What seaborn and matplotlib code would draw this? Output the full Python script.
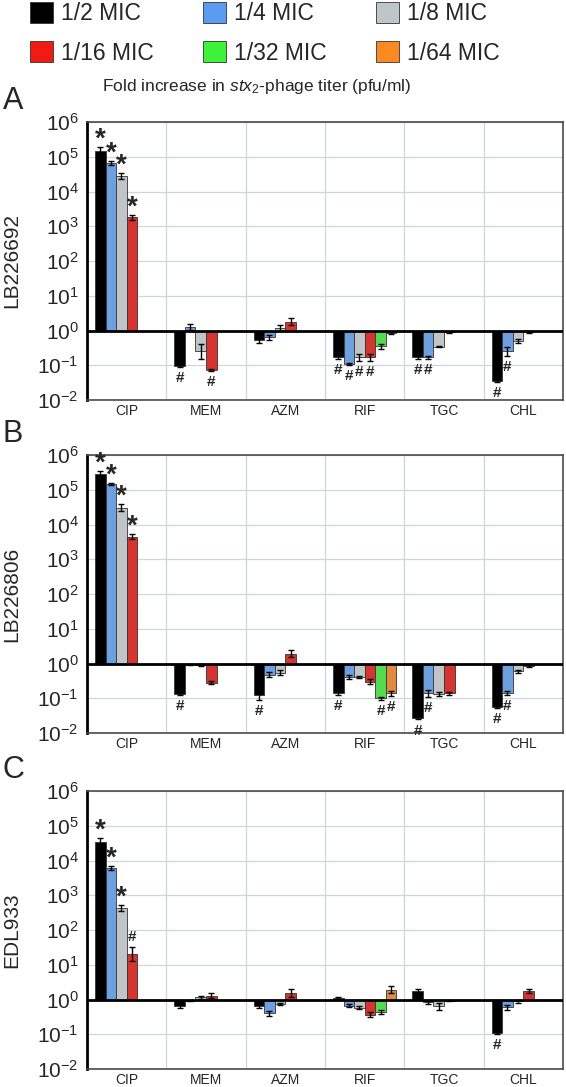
import numpy as np
import pandas as pd
import matplotlib
matplotlib.use("Agg")
import matplotlib.pyplot as plt
from matplotlib.patches import Patch
import seaborn as sns

# ---- data (fold increase, None = not tested) ----
drugs = ["CIP", "MEM", "AZM", "RIF", "TGC", "CHL"]
concs = ["1/2 MIC", "1/4 MIC", "1/8 MIC", "1/16 MIC", "1/32 MIC", "1/64 MIC"]
colors = ["#000000", "#5b9cf2", "#bec6ca", "#f21a14", "#3ef23a", "#fb8a22"]
strains = ["LB226692", "LB226806", "EDL933"]
panel_letters = ["A", "B", "C"]

fold_a = [
    [1.5e5, 6.5e4, 2.8e4, 1.8e3, None, None],
    [0.094, 1.25, 0.25, 0.075, None, None],
    [0.52, 0.63, 1.18, 1.8, None, None],
    [0.17, 0.11, 0.17, 0.17, 0.35, 0.85],
    [0.17, 0.17, 0.34, 0.88, None, None],
    [0.035, 0.25, 0.5, 0.88, None, None],
]
fold_b = [
    [2.8e5, 1.45e5, 3.0e4, 4.5e3, None, None],
    [0.13, 0.95, 0.9, 0.28, None, None],
    [0.12, 0.48, 0.54, 1.9, None, None],
    [0.14, 0.42, 0.42, 0.3, 0.1, 0.14],
    [0.027, 0.14, 0.135, 0.14, None, None],
    [0.055, 0.14, 0.6, 0.85, None, None],
]
fold_c = [
    [3.5e4, 6.0e3, 4.3e2, 21, None, None],
    [0.67, 0.93, 1.17, 1.3, None, None],
    [0.65, 0.4, 0.75, 1.55, None, None],
    [1.1, 0.67, 0.58, 0.37, 0.43, 1.9],
    [1.8, 0.83, 0.63, 0.93, None, None],
    [0.11, 0.6, 0.88, 1.8, None, None],
]

# error half-widths in log10 units
err_a = [
    [0.10, 0.06, 0.08, 0.08, 0, 0],
    [0.02, 0.08, 0.22, 0.03, 0, 0],
    [0.08, 0.07, 0.08, 0.10, 0, 0],
    [0.04, 0.03, 0.10, 0.10, 0.08, 0.02],
    [0.04, 0.04, 0.02, 0.02, 0, 0],
    [0.03, 0.12, 0.06, 0.03, 0, 0],
]
err_b = [
    [0.08, 0.02, 0.10, 0.07, 0, 0],
    [0.03, 0.02, 0.03, 0.05, 0, 0],
    [0.12, 0.07, 0.07, 0.10, 0, 0],
    [0.05, 0.06, 0.03, 0.08, 0.05, 0.07],
    [0.04, 0.10, 0.06, 0.04, 0, 0],
    [0.03, 0.06, 0.04, 0.03, 0, 0],
]
err_c = [
    [0.10, 0.06, 0.08, 0.20, 0, 0],
    [0.07, 0.02, 0.04, 0.06, 0, 0],
    [0.07, 0.08, 0.03, 0.12, 0, 0],
    [0.03, 0.04, 0.04, 0.07, 0.06, 0.10],
    [0.06, 0.04, 0.09, 0.02, 0, 0],
    [0.03, 0.07, 0.05, 0.06, 0, 0],
]

# significance marks: (drug, concentration index, symbol)
marks_a = [("CIP", 0, "*"), ("CIP", 1, "*"), ("CIP", 2, "*"), ("CIP", 3, "*"),
           ("MEM", 0, "#"), ("MEM", 3, "#"),
           ("RIF", 0, "#"), ("RIF", 1, "#"), ("RIF", 2, "#"), ("RIF", 3, "#"),
           ("TGC", 0, "#"), ("TGC", 1, "#"), ("CHL", 0, "#"), ("CHL", 1, "#")]
marks_b = [("CIP", 0, "*"), ("CIP", 1, "*"), ("CIP", 2, "*"), ("CIP", 3, "*"),
           ("MEM", 0, "#"), ("AZM", 0, "#"),
           ("RIF", 0, "#"), ("RIF", 4, "#"), ("RIF", 5, "#"),
           ("TGC", 0, "#"), ("TGC", 1, "#"), ("CHL", 0, "#"), ("CHL", 1, "#")]
marks_c = [("CIP", 0, "*"), ("CIP", 1, "*"), ("CIP", 2, "*"), ("CIP", 3, "#"),
           ("CHL", 0, "#")]

folds = [fold_a, fold_b, fold_c]
errs = [err_a, err_b, err_c]
marks = [marks_a, marks_b, marks_c]

# ---- long table ----
rows = []
for s, strain in enumerate(strains):
    for i, drug in enumerate(drugs):
        for j, conc in enumerate(concs):
            v = folds[s][i][j]
            if v is None:
                continue
            rows.append(dict(strain=strain, drug=drug, conc=conc,
                             logfold=np.log10(v), err=errs[s][i][j]))
df = pd.DataFrame(rows)

sns.set_style("white")
plt.rcParams["font.family"] = ["Liberation Sans", "DejaVu Sans"]
plt.rcParams["mathtext.fontset"] = "custom"
plt.rcParams["mathtext.rm"] = "Liberation Sans"
plt.rcParams["mathtext.it"] = "Liberation Sans:italic"
plt.rcParams["mathtext.default"] = "regular"

W, H = 566, 1087
fig = plt.figure(figsize=(W / 100, H / 100), dpi=100)

ax_left, ax_right = 87, 563
ax_tops = [122, 455, 791]
ax_h = 278
bar_width = 0.8
n_hue = len(concs)

for s, strain in enumerate(strains):
    top = ax_tops[s]
    ax = fig.add_axes([ax_left / W, 1 - (top + ax_h) / H,
                       (ax_right - ax_left) / W, ax_h / H])
    sub = df[df.strain == strain]
    sns.barplot(data=sub, x="drug", y="logfold", hue="conc", order=drugs,
                hue_order=concs, palette=colors, width=bar_width, dodge=True,
                errorbar=None, edgecolor="#333333", linewidth=0.6,
                legend=False, ax=ax, zorder=3)

    # error bars and significance marks
    for _, r in sub.iterrows():
        i = drugs.index(r.drug)
        j = concs.index(r.conc)
        x = i - bar_width / 2 + (j + 0.5) * bar_width / n_hue
        ax.errorbar(x, r.logfold, yerr=r.err, fmt="none", ecolor="black",
                    elinewidth=1, capsize=2, capthick=1, zorder=4)
    for drug, j, sym in marks[s]:
        i = drugs.index(drug)
        x = i - bar_width / 2 + (j + 0.5) * bar_width / n_hue
        r = sub[(sub.drug == drug) & (sub.conc == concs[j])].iloc[0]
        if r.logfold > 0:
            y, dy, va = r.logfold + r.err, 2, "bottom"
        else:
            y, dy, va = r.logfold - r.err, -3, "top"
        if sym == "*":
            ax.annotate("*", (x, y), xytext=(0, dy - 6), textcoords="offset points",
                        ha="center", va=va, fontsize=20, fontweight="bold", zorder=5)
        else:
            ax.annotate("#", (x, y), xytext=(0, dy), textcoords="offset points",
                        ha="center", va=va, fontsize=11, fontweight="bold", zorder=5)

    ax.axhline(0, color="black", lw=2, zorder=5)
    ax.set_xlim(-0.5, len(drugs) - 0.5)
    ax.set_ylim(-2, 6)
    ax.set_yticks(range(-2, 7))
    ax.set_yticklabels([f"10$^{{{k}}}$" for k in range(-2, 7)], fontsize=15)
    ax.set_xticks(range(len(drugs)))
    ax.set_xticklabels(drugs, fontsize=10)
    ax.set_xticks(np.arange(0.5, len(drugs) - 0.5), minor=True)
    ax.tick_params(axis="x", which="both", length=0, pad=3)
    ax.tick_params(axis="y", which="major", direction="out", length=4,
                   width=1.2, color="black", pad=2)
    ax.grid(True, axis="y", which="major", color="#cfd6da", lw=0.9, zorder=0)
    ax.grid(True, axis="x", which="minor", color="#cfd6da", lw=0.9, zorder=0)
    ax.set_axisbelow(True)
    for side in ["top", "right", "bottom"]:
        ax.spines[side].set_color("#4a4a4a")
        ax.spines[side].set_linewidth(1.2)
    ax.spines["left"].set_color("black")
    ax.spines["left"].set_linewidth(2)
    ax.set_xlabel("")
    ax.set_ylabel("")

    fig.text(12 / W, 1 - (top + ax_h / 2) / H, strain, fontsize=15,
             rotation=90, ha="center", va="center")
    fig.text(13 / W, 1 - (top - 21) / H, panel_letters[s], fontsize=22,
             ha="center", va="center")

# ---- legend and caption ----
order = [0, 3, 1, 4, 2, 5]
handles = [Patch(facecolor=colors[k], edgecolor="#333333", lw=0.6, label=concs[k])
           for k in order]
fig.legend(handles=handles, loc="upper left", bbox_to_anchor=(28 / W, 1 - 0 / H),
           ncol=3, frameon=False, fontsize=16.5, handlelength=1.0, handleheight=1.0,
           handletextpad=0.35, columnspacing=2.15, labelspacing=0.7, borderpad=0.1,
           borderaxespad=0)
fig.text(257 / W, 1 - 86 / H,
         r"Fold increase in $\mathit{stx}_{\mathit{2}}$-phage titer (pfu/ml)",
         ha="center", va="center", fontsize=12.5)

fig.savefig("out.png", dpi=100)
